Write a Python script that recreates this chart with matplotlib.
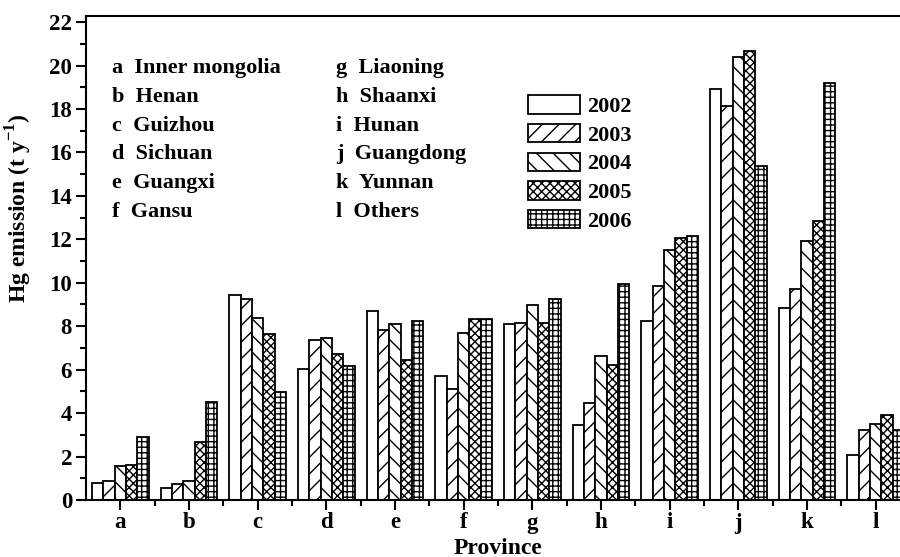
import matplotlib
matplotlib.use("Agg")
import matplotlib.pyplot as plt
import numpy as np
from matplotlib.ticker import MultipleLocator, FixedLocator

plt.rcParams['font.family'] = ['Liberation Serif', 'DejaVu Serif']
plt.rcParams['font.weight'] = 'bold'
plt.rcParams['mathtext.fontset'] = 'custom'
plt.rcParams['mathtext.rm'] = 'Liberation Serif'
plt.rcParams['mathtext.bf'] = 'Liberation Serif:bold'
plt.rcParams['hatch.linewidth'] = 1.0

categories = ['a', 'b', 'c', 'd', 'e', 'f', 'g', 'h', 'i', 'j', 'k', 'l']
years = ['2002', '2003', '2004', '2005', '2006']
v2002 = [0.77, 0.55, 9.44, 6.03, 8.70, 5.71, 8.08, 3.46, 8.22, 18.92, 8.82, 2.09]
v2003 = [0.89, 0.72, 9.25, 7.35, 7.82, 5.12, 8.15, 4.45, 9.86, 18.15, 9.69, 3.20]
v2004 = [1.57, 0.89, 8.40, 7.46, 8.09, 7.71, 8.97, 6.65, 11.52, 20.38, 11.92, 3.52]
v2005 = [1.62, 2.66, 7.66, 6.74, 6.46, 8.35, 8.17, 6.23, 12.08, 20.69, 12.83, 3.92]
v2006 = [2.92, 4.52, 4.97, 6.15, 8.25, 8.35, 9.23, 9.94, 12.17, 15.38, 19.20, 3.23]
series = [v2002, v2003, v2004, v2005, v2006]
hatches = ['', '//', '\\\\', 'xxxx', '+++']
names_left = ['a  Inner mongolia', 'b  Henan', 'c  Guizhou', 'd  Sichuan', 'e  Guangxi', 'f  Gansu']
names_right = ['g  Liaoning', 'h  Shaanxi', 'i  Hunan', 'j  Guangdong', 'k  Yunnan', 'l  Others']

fig = plt.figure(figsize=(9, 5.57), dpi=100)
ax = fig.add_axes([86/900, 1-500/557, (910-86)/900, (500-16)/557])

x = np.arange(len(categories))
bw = 0.166
for i, (vals, h, yr) in enumerate(zip(series, hatches, years)):
    ax.bar(x + (i - 2) * bw, vals, width=bw, color='white', edgecolor='black',
           linewidth=1.3, hatch=h, label=yr)

ax.set_xlim(-0.5, 11.5)
ax.set_ylim(0, 22.28)
ax.set_xticks(x)
ax.set_xticklabels(categories)
ax.xaxis.set_minor_locator(FixedLocator(x[:-1] + 0.5))
ax.yaxis.set_major_locator(MultipleLocator(2))
ax.yaxis.set_minor_locator(MultipleLocator(1))
ax.tick_params(axis='both', which='major', direction='out', length=7, width=1.5, labelsize=16.5)
ax.tick_params(axis='both', which='minor', direction='out', length=4, width=1.5)
ax.tick_params(axis='x', which='major', pad=2)
ax.tick_params(axis='y', which='major', pad=3)
for s in ax.spines.values():
    s.set_linewidth(1.5)

ax.set_ylabel('Hg emission (t y$^{\\mathrm{-1}}$)', fontsize=17, fontweight='bold')
ax.yaxis.set_label_coords((34 - 86) / 824, (500 - 208) / 484)
ax.set_xlabel('Province', fontsize=17, fontweight='bold', labelpad=3)

for k, t in enumerate(names_left):
    ax.text(112/900, 1 - (68 + k*28.8)/557, t, transform=fig.transFigure,
            fontsize=16, fontweight='bold', va='center', ha='left')
for k, t in enumerate(names_right):
    ax.text(336/900, 1 - (68 + k*28.8)/557, t, transform=fig.transFigure,
            fontsize=16, fontweight='bold', va='center', ha='left')

leg = ax.legend(loc='upper left', bbox_to_anchor=(524/900, 1 - 91/557),
                bbox_transform=fig.transFigure, frameon=False, fontsize=16,
                handlelength=2.3, handleheight=0.9, labelspacing=0.3,
                handletextpad=0.36, borderpad=0.2, borderaxespad=0)

fig.savefig('out.png', dpi=100)
